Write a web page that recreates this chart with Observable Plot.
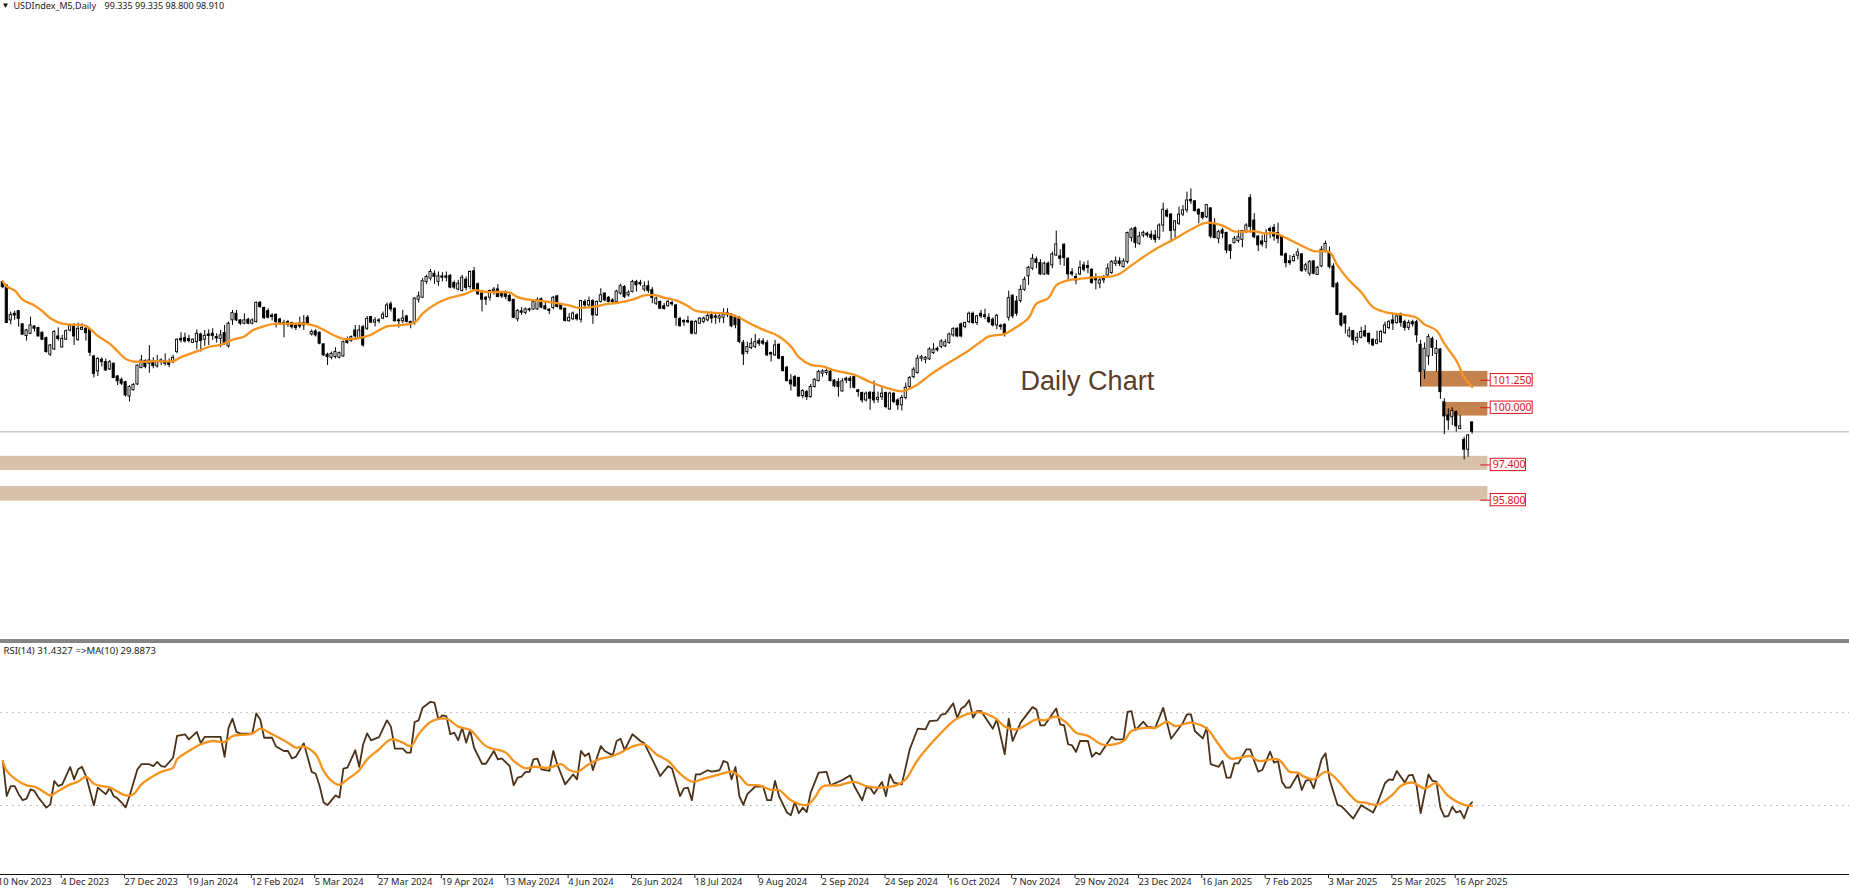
<!DOCTYPE html>
<html>
<head>
<meta charset="utf-8">
<title>USDIndex Daily Chart</title>
<script src="https://cdn.jsdelivr.net/npm/d3@7"></script>
<script src="https://cdn.jsdelivr.net/npm/@observablehq/plot@0.6"></script>
<style>
html,body{margin:0;padding:0;background:#fff;overflow:hidden}
svg{display:block}
#sep{height:4px;background:#858585}
</style>
</head>
<body>
<div id="top"></div>
<div id="sep"></div>
<div id="bottom"></div>
<script>
const high=[
105.76,105.56,104.35,104.39,104.42,103.82,103.56,104.12,103.74,103.66,
103.44,103.21,102.88,103.51,103.63,103.29,103.54,103.79,103.82,103.85,
103.82,103.74,103.59,102.38,102.27,102.27,102.22,102.15,102.03,101.47,
101.35,101.20,101.01,101.09,101.95,102.38,102.18,102.82,102.27,102.38,
102.22,102.45,102.22,102.38,103.13,103.41,103.39,103.29,103.13,103.54,
103.39,103.51,103.54,103.59,103.36,103.51,103.74,103.89,104.42,104.42,
104.00,104.27,104.07,104.04,104.80,104.83,104.57,104.50,104.27,104.27,
104.07,103.97,103.97,103.89,103.82,104.12,104.19,104.19,103.54,103.54,
103.44,102.91,102.48,102.53,102.73,102.53,103.03,103.21,103.26,103.74,
103.74,103.74,104.15,104.15,104.09,104.05,104.35,104.76,104.81,104.53,
104.05,104.43,104.20,103.93,105.00,105.26,105.87,106.02,106.28,106.22,
106.17,106.14,106.17,106.06,105.76,105.79,106.02,105.94,106.22,106.37,
105.67,105.34,105.06,105.34,105.46,105.59,105.26,105.31,105.15,104.91,
104.46,104.55,104.53,104.53,104.88,104.99,104.99,104.81,104.50,105.06,
105.11,104.73,104.53,104.28,104.35,104.28,104.88,104.91,105.03,104.91,
104.85,105.41,105.23,105.06,104.96,105.34,105.61,105.55,105.31,105.79,
105.79,105.79,105.72,105.76,105.46,105.03,104.85,104.73,104.88,104.85,
104.70,104.12,104.00,104.15,103.94,103.97,104.09,104.12,104.28,104.35,
104.28,104.25,104.50,104.50,104.28,104.20,104.15,103.06,102.98,103.14,
103.33,103.14,103.14,103.06,102.53,103.06,102.91,102.33,101.88,101.50,
101.47,101.39,100.82,100.79,101.06,101.32,101.70,101.73,101.73,101.70,
101.27,101.32,101.32,101.39,101.42,101.42,100.82,100.71,100.71,100.74,
101.21,100.71,100.91,100.71,100.71,100.68,100.41,100.56,101.12,101.42,
101.82,102.38,102.38,102.33,102.73,102.91,102.76,103.09,103.09,103.39,
103.64,103.64,103.85,103.89,104.35,104.35,104.20,104.42,104.48,104.27,
104.09,104.24,103.79,103.82,105.30,105.14,105.06,105.56,105.94,106.42,
106.97,106.85,106.73,106.62,106.62,107.08,108.03,107.18,107.45,106.82,
106.32,106.09,106.67,106.62,106.67,106.32,106.09,105.94,106.01,106.54,
106.69,106.85,106.82,106.77,107.98,108.16,108.21,107.98,108.03,107.98,
108.03,108.06,108.36,109.30,109.04,108.82,108.51,109.12,109.19,109.80,
109.95,109.42,109.04,108.89,109.24,109.09,108.59,108.06,108.16,107.98,
107.42,107.78,108.06,108.06,108.36,109.68,108.82,107.83,107.83,108.09,
108.21,108.33,108.39,107.83,107.03,106.92,106.97,107.22,107.00,106.57,
106.69,106.69,106.42,107.33,107.57,107.30,106.54,105.71,104.31,104.19,
103.66,103.51,103.39,103.66,103.74,103.39,103.13,103.48,103.51,103.89,
103.97,104.24,104.27,104.30,103.98,103.97,103.98,103.97,103.06,102.94,
103.33,103.21,103.06,102.68,100.41,99.95,100.00,99.85,99.65,98.66,98.78,99.335];
const low=[
105.41,103.82,103.77,103.97,103.66,103.29,103.03,103.32,103.44,103.21,
103.06,102.48,102.33,102.60,103.03,102.71,103.06,103.44,102.83,103.01,
103.51,103.03,102.33,101.35,101.42,101.85,101.65,101.69,101.32,101.01,
101.01,100.48,100.26,100.76,101.01,101.77,101.77,101.57,101.77,101.80,
101.92,101.89,101.82,102.00,102.45,102.94,102.94,102.94,102.91,102.63,
102.53,102.79,102.83,103.06,102.94,102.73,102.83,102.71,103.74,103.92,
103.74,103.77,103.77,103.77,103.85,104.53,104.01,104.04,103.94,103.63,
103.74,103.18,103.66,103.57,103.51,103.59,103.51,103.74,103.26,103.21,
102.86,102.33,101.92,102.18,102.22,102.22,102.30,102.88,102.98,103.09,
103.10,102.75,103.51,103.82,103.67,103.82,104.00,104.08,104.35,103.90,
103.62,103.82,103.85,103.59,103.75,104.76,104.96,105.61,105.76,105.61,
105.52,105.72,105.72,105.41,105.37,105.31,105.26,105.31,105.37,105.31,
105.11,104.35,104.65,104.85,105.11,105.00,104.96,104.91,104.81,104.05,
103.90,104.20,104.23,104.35,104.43,104.43,104.50,104.43,104.23,104.46,
104.53,104.43,103.90,103.90,103.97,103.94,103.85,104.55,104.58,103.79,
104.15,104.76,104.81,104.76,104.73,104.73,105.11,104.96,105.03,105.22,
105.26,105.52,105.26,105.19,104.73,104.65,104.46,104.43,104.58,104.61,
103.70,103.67,103.70,103.82,103.31,103.31,103.78,103.82,103.90,103.82,
103.79,103.85,103.82,104.09,103.64,103.59,102.91,101.92,102.42,102.64,
102.68,102.79,102.83,102.33,102.08,102.33,102.18,101.62,101.17,100.76,
100.94,100.48,100.41,100.33,100.44,100.89,101.17,101.39,101.47,101.17,
100.91,100.48,100.71,101.09,100.86,100.86,100.48,100.21,100.26,99.88,
100.18,100.21,100.33,99.95,99.88,100.18,99.88,99.85,100.36,100.86,
101.32,101.52,102.08,102.00,102.15,102.42,102.53,102.68,102.73,102.88,
103.21,103.18,103.18,103.59,103.82,103.79,103.74,104.05,104.00,103.82,
103.67,103.55,103.52,103.21,103.94,104.05,104.15,104.76,105.29,105.56,
106.24,106.32,106.01,106.01,106.01,106.32,106.88,106.47,106.42,105.79,
105.97,105.59,106.01,106.17,106.09,105.61,105.36,105.41,105.64,105.94,
106.06,106.42,106.42,106.35,106.54,107.53,107.25,107.38,107.72,107.72,
107.60,107.48,107.60,107.98,108.63,107.57,107.68,108.28,108.69,108.85,
109.24,108.89,108.36,108.54,108.59,107.68,107.68,107.45,107.68,107.00,
106.74,107.45,107.48,107.27,107.91,107.94,107.68,107.10,107.30,107.22,
107.68,107.57,107.45,106.88,106.36,106.47,106.62,106.72,106.15,106.16,
105.97,106.04,106.01,106.36,107.03,106.31,105.44,104.18,103.66,103.36,
103.16,102.83,102.91,103.13,103.18,102.86,102.78,102.86,102.94,103.33,
103.54,103.51,103.79,103.66,103.48,103.51,103.66,102.95,100.94,101.29,
101.92,102.33,101.62,100.38,98.78,98.97,99.19,98.89,99.00,97.63,97.75,98.80];
const open=[
105.71,105.56,103.97,104.27,104.39,103.79,103.26,103.36,103.69,103.62,
103.41,103.16,102.41,102.65,103.24,102.74,103.09,103.51,103.74,103.09,
103.54,103.59,103.56,102.33,101.65,102.18,102.07,101.74,102.00,101.42,
101.27,101.16,100.51,100.79,101.06,101.80,102.12,102.00,102.10,101.88,
102.15,102.12,102.07,102.07,102.53,103.13,103.16,103.12,102.95,102.98,
103.33,103.09,103.33,103.36,103.21,103.13,103.39,102.79,103.97,104.27,
103.97,103.82,104.00,103.82,103.89,104.77,104.54,104.39,104.19,104.22,
104.01,103.85,103.89,103.85,103.74,103.82,103.74,104.09,103.33,103.47,
103.41,102.88,102.41,102.27,102.30,102.27,102.33,103.06,103.03,103.51,
103.13,103.66,103.59,104.12,103.87,103.93,104.05,104.12,104.70,104.50,
103.97,103.93,104.15,103.90,103.85,104.91,105.00,105.72,105.87,106.09,
105.72,105.97,105.97,105.99,105.67,105.37,105.31,105.82,105.49,106.20,
105.61,105.19,105.00,105.00,105.31,105.38,105.19,105.19,105.08,104.91,
104.02,104.38,104.31,104.47,104.46,104.47,104.93,104.61,104.46,104.53,
105.06,104.68,104.50,103.93,104.02,104.20,104.00,104.81,104.65,104.85,
104.20,104.81,105.19,105.00,104.88,104.81,105.19,105.49,105.11,105.26,
105.72,105.67,105.37,105.52,105.34,104.73,104.81,104.61,104.61,104.76,
104.65,104.03,103.94,103.94,103.91,103.37,103.82,103.90,103.97,104.20,
104.15,104.05,104.09,104.20,104.15,104.09,104.09,102.95,102.53,102.71,
102.76,103.03,103.01,102.94,102.48,102.38,102.86,102.30,101.82,101.24,
101.39,101.35,100.53,100.71,100.48,100.94,101.21,101.55,101.58,101.64,
101.24,101.17,100.74,101.32,101.32,101.39,100.79,100.67,100.33,100.68,
100.68,100.36,100.48,100.67,99.92,100.64,100.33,100.11,100.44,100.94,
101.39,101.58,102.23,102.18,102.20,102.48,102.68,102.76,102.79,102.94,
103.29,103.59,103.79,103.67,103.89,104.27,103.85,104.27,104.20,104.09,
104.00,103.74,103.73,103.77,104.09,105.09,104.83,104.85,105.36,105.97,
106.32,106.74,106.58,106.06,106.55,106.47,106.92,106.88,107.41,106.77,
106.15,105.94,106.06,106.47,106.44,106.27,105.91,105.64,105.79,106.01,
106.12,106.54,106.65,106.39,106.62,107.72,108.16,107.45,107.83,107.91,
107.86,107.83,107.72,108.28,108.94,108.78,108.06,108.36,108.78,108.97,
109.45,109.38,109.00,108.85,108.66,109.06,108.36,107.68,108.06,107.94,
107.38,107.48,107.57,107.63,107.98,109.53,108.51,107.78,107.56,107.53,
108.13,108.18,107.94,107.78,106.97,106.66,106.66,106.91,106.97,106.27,
106.09,106.65,106.04,106.42,107.07,107.03,106.42,105.63,104.27,104.15,
103.24,103.48,103.03,103.18,103.48,103.36,103.09,102.91,102.98,103.39,
103.62,103.97,103.85,104.24,103.89,103.63,103.89,103.89,102.86,101.69,
102.33,103.13,102.45,102.65,100.25,99.65,99.57,99.80,99.03,98.54,98.09,99.335];
const close=[
105.48,103.85,104.22,104.19,104.04,103.32,103.51,103.74,103.59,103.24,
103.09,102.53,102.83,103.44,103.12,103.13,103.48,103.72,103.24,103.59,
103.63,103.39,102.50,101.54,102.22,102.07,101.69,102.07,101.35,101.20,
101.09,100.56,100.94,101.04,101.91,102.15,101.85,102.15,101.89,102.12,
102.07,102.00,101.95,102.27,103.09,103.06,103.01,103.03,103.09,103.36,
103.03,103.27,103.26,103.26,103.15,103.29,102.94,103.82,104.30,103.97,
103.82,103.97,103.82,103.97,104.77,104.57,104.07,104.09,104.12,103.89,
103.82,103.77,103.77,103.66,103.62,103.69,103.85,103.82,103.44,103.29,
102.91,102.38,102.30,102.45,102.53,102.48,102.98,102.94,103.21,103.24,
103.51,102.83,104.04,103.87,103.97,103.97,104.23,104.65,104.47,103.93,
103.93,104.05,103.90,103.82,104.96,105.06,105.75,105.94,106.17,105.94,
105.97,105.91,105.91,105.46,105.46,105.64,105.91,105.44,106.17,105.37,
105.15,104.91,104.91,105.31,105.37,105.03,105.06,105.03,104.84,104.09,
104.40,104.32,104.47,104.43,104.81,104.88,104.55,104.47,104.40,105.00,
104.58,104.47,103.94,104.09,104.28,104.02,104.85,104.65,104.85,104.20,
104.81,105.11,104.88,104.81,104.81,105.28,105.52,105.03,105.23,105.72,
105.56,105.61,105.52,105.31,104.99,104.96,104.50,104.49,104.81,104.70,
104.09,103.70,103.88,103.88,103.37,103.90,104.05,104.05,104.17,104.05,
104.09,104.15,104.23,104.31,103.70,103.75,102.99,102.42,102.76,102.91,
102.98,102.91,102.91,102.38,102.42,102.83,102.23,101.67,101.21,101.06,
100.97,100.51,100.76,100.48,100.94,101.27,101.62,101.65,101.67,101.21,
100.97,100.94,101.20,101.24,101.21,100.91,100.71,100.33,100.64,100.41,
100.33,100.45,100.64,100.03,100.64,100.26,100.11,100.44,100.91,101.35,
101.73,102.23,102.30,102.27,102.65,102.64,102.61,103.01,102.98,103.33,
103.57,103.24,103.24,103.85,104.27,103.85,104.15,104.15,104.12,103.89,
103.74,104.18,103.67,103.33,104.98,104.15,104.27,105.36,105.82,106.36,
106.77,106.58,106.06,106.55,106.06,106.97,107.42,106.77,106.80,106.06,
106.06,105.79,106.36,106.27,106.35,105.67,105.79,105.79,105.86,106.32,
106.62,106.65,106.54,106.65,107.94,108.10,107.48,107.78,107.95,107.83,
107.72,107.63,108.28,109.00,108.69,108.03,108.47,108.78,108.97,109.42,
109.38,108.94,108.78,108.63,109.21,107.78,107.71,107.98,107.91,107.15,
107.12,107.68,107.75,108.03,108.28,108.21,107.75,107.38,107.42,107.91,
108.03,107.78,107.68,106.92,106.57,106.57,106.85,107.06,106.21,106.47,
106.62,106.09,106.36,107.18,107.45,106.39,105.48,104.22,103.74,103.82,
103.51,103.06,103.18,103.44,103.24,102.98,102.83,103.06,103.44,103.74,
103.89,103.82,104.15,103.86,103.63,103.85,103.79,103.29,101.62,102.68,
103.21,102.72,102.68,100.71,99.60,99.42,99.85,99.15,99.15,98.09,98.74,98.91];

const maBar=[0,1,3,5,8,10,12,15,18,21,24,27,29,31,33,36,39,43,45,49,52,55,58,61,63,66,69,72,76,79,82,84,86,89,91,93,95,97,100,104,106,110,113,117,119,122,125,128,130,133,136,139,143,145,149,152,155,159,162,165,167,170,173,175,180,183,186,189,192,196,199,201,204,207,210,215,219,223,227,228,231,234,238,244,247,249,253,255,259,261,264,266,269,272,276,280,282,285,289,292,296,300,304,308,311,314,316,319,321,324,327,331,335,337,340,343,346,349,353,357,359,362,364,367,369,371];
const maValue=[105.74,105.51,105.33,104.91,104.65,104.39,104.07,103.82,103.77,103.71,103.26,102.91,102.56,102.22,102.10,102.10,102.12,102.12,102.30,102.56,102.76,102.86,103.09,103.24,103.51,103.71,103.82,103.82,103.82,103.71,103.44,103.26,103.13,103.13,103.21,103.32,103.52,103.70,103.75,103.87,104.28,104.78,105.00,105.19,105.34,105.26,105.26,105.23,105.03,104.91,104.85,104.78,104.65,104.55,104.58,104.70,104.76,104.91,105.11,105.11,105.00,104.88,104.62,104.40,104.31,104.28,104.09,103.79,103.55,103.24,102.79,102.30,101.95,101.88,101.70,101.50,101.17,100.91,100.74,100.79,101.06,101.47,101.95,102.61,103.01,103.24,103.36,103.56,104.08,104.73,104.98,105.56,105.79,105.86,105.94,105.97,106.09,106.47,106.97,107.30,107.68,108.10,108.41,108.28,108.01,108.01,108.03,107.91,107.95,107.72,107.45,107.12,107.07,106.47,105.78,105.25,104.57,104.35,104.24,104.09,103.79,103.51,102.91,102.15,101.39,100.94];

const rsiBar=[0,1,2,3,4,5,6,7,8,9,10,11,12,13,14,15,17,18,19,20,21,23,24,26,27,28,29,30,31,32,34,35,37,38,39,40,41,43,44,46,47,49,50,51,54,55,56,57,58,59,60,63,64,65,66,68,69,71,72,73,74,76,78,79,80,81,82,84,85,86,87,89,90,91,92,93,95,97,98,99,101,102,103,104,105,106,108,109,110,111,112,113,114,115,116,117,118,119,121,122,124,125,126,128,129,130,131,132,133,134,135,136,138,139,140,142,144,145,146,147,148,149,151,152,154,155,156,157,159,161,162,164,166,168,169,171,172,173,174,175,176,178,179,181,182,183,184,185,186,187,188,190,192,193,194,195,196,198,199,200,201,202,203,204,206,208,209,212,214,215,217,218,219,220,222,223,224,225,227,229,231,233,234,236,237,238,240,241,242,243,244,245,246,247,250,251,253,254,255,257,260,261,262,263,266,267,268,269,270,271,272,274,275,276,277,280,281,283,284,285,286,288,289,291,293,295,298,299,300,301,303,304,305,307,308,309,310,311,312,314,315,316,317,318,320,321,322,323,324,325,327,328,329,330,331,333,334,335,337,338,341,343,346,347,349,350,351,352,354,355,356,357,358,360,361,362,363,364,365,366,367,368,369,370,371];
const rsiValue=[49.2,34.1,38.4,38.4,34.9,32.3,33.0,37.0,36.3,33.4,31.3,29.1,30.5,40.6,38.4,39.1,46.6,41.3,45.6,46.7,42.7,30.1,37.7,34.9,37.7,34.1,33.0,31.3,29.2,34.1,45.6,47.8,47.8,47.0,48.8,47.0,46.7,50.6,60.0,60.7,58.5,61.7,56.8,59.6,59.6,59.6,51.0,63.5,67.4,61.7,61.0,61.0,69.7,67.1,59.2,59.2,55.4,53.5,53.5,50.3,51.0,56.8,44.5,43.7,38.4,31.3,30.2,34.4,33.4,45.9,46.3,53.8,46.7,56.4,61.1,58.1,59.5,66.7,64.0,54.5,54.5,52.8,52.8,66.0,66.7,72.1,74.7,74.3,67.1,68.8,68.5,60.7,61.4,58.1,63.5,57.1,62.5,54.9,48.0,48.0,53.5,49.9,50.3,47.0,38.7,42.0,42.5,44.5,44.5,49.9,50.2,45.6,44.9,53.5,47.8,39.1,43.4,41.3,53.5,51.3,52.5,45.3,55.6,53.5,51.6,57.8,58.8,53.9,60.7,57.8,56.8,49.9,42.7,47.0,45.9,34.1,37.4,37.7,32.3,43.4,43.4,45.2,44.6,45.2,49.2,48.5,41.3,46.6,33.9,30.3,34.9,38.2,38.2,32.3,32.3,40.6,34.1,27.0,25.8,31.5,26.7,29.1,27.2,35.6,44.2,44.5,38.7,41.0,43.0,38.4,32.3,37.7,37.7,35.1,40.1,34.1,43.4,39.9,39.1,54.2,63.1,62.8,66.4,66.7,69.2,69.5,74.0,67.8,71.8,72.9,75.4,67.8,70.7,70.7,63.1,67.1,52.1,67.4,57.8,65.7,72.4,71.4,64.5,64.5,71.8,65.0,64.5,56.4,55.9,53.1,57.8,57.8,51.0,52.8,52.0,59.6,58.5,58.5,70.3,70.7,62.5,66.1,64.0,63.5,72.1,58.8,65.7,69.3,69.3,62.1,58.9,63.5,47.8,46.7,49.2,42.0,42.0,48.2,48.2,54.2,54.2,49.2,44.6,45.3,53.2,48.5,49.2,40.2,37.7,37.7,43.4,36.7,40.6,41.3,37.4,49.9,52.5,41.3,30.3,29.8,24.4,30.1,27.0,30.5,39.6,41.3,41.0,44.9,39.9,43.0,43.2,38.4,26.7,43.4,40.6,40.3,29.1,25.2,25.5,29.4,27.0,27.7,24.5,29.4,31.43];

const rsiMaBar=[0,1,3,6,8,10,12,14,17,19,21,23,25,27,29,31,33,35,38,40,43,44,47,50,53,56,58,63,65,68,72,74,76,79,81,83,85,87,90,92,95,98,101,103,105,108,112,115,118,122,127,129,132,134,138,141,143,145,148,151,154,156,159,162,165,168,171,174,177,181,184,186,188,191,194,196,199,203,205,207,211,215,218,222,226,228,231,235,240,242,245,248,251,253,256,261,263,266,269,271,274,278,283,285,289,291,294,296,300,304,307,310,312,315,317,322,325,327,328,331,334,336,342,344,347,351,353,356,359,362,365,369,371];
const rsiMaValue=[49.2,44.9,41.6,38.7,38.1,36.3,34.4,36.3,39.1,40.3,42.4,39.4,38.4,37.7,36.0,34.4,34.9,39.1,42.7,44.5,46.3,49.9,53.5,56.4,57.8,57.4,59.9,61.0,63.1,60.7,57.1,54.9,55.4,52.1,44.9,40.6,38.9,41.3,45.2,49.9,54.2,58.5,57.1,55.6,60.7,66.0,67.4,64.0,62.5,55.6,52.8,49.2,46.0,46.7,46.3,47.8,45.3,44.5,47.8,50.2,51.3,52.8,55.4,56.4,52.1,49.2,43.7,40.3,41.6,43.4,44.6,42.7,39.1,38.7,36.7,36.7,32.3,30.3,33.4,38.2,38.7,40.2,38.4,37.7,39.0,41.3,49.6,57.8,66.4,68.3,70.0,69.7,67.1,64.0,62.8,67.1,66.7,68.3,65.0,61.4,60.0,56.1,57.8,62.1,63.5,63.5,66.0,64.2,65.7,63.1,56.4,50.3,50.5,51.3,49.2,49.9,44.5,44.2,43.0,41.3,44.5,42.7,31.7,31.3,30.3,34.8,38.4,39.9,37.4,39.6,34.1,30.3,29.89];

const tickBars=[-1,15,31,47,63,79,95,111,127,143,159,175,191,207,223,239,255,271,287,303,319,335,351,367];
const tickLabels=["10 Nov 2023","4 Dec 2023","27 Dec 2023","19 Jan 2024","12 Feb 2024","5 Mar 2024","27 Mar 2024","19 Apr 2024","13 May 2024","4 Jun 2024","26 Jun 2024","18 Jul 2024","9 Aug 2024","2 Sep 2024","24 Sep 2024","16 Oct 2024","7 Nov 2024","29 Nov 2024","23 Dec 2024","16 Jan 2025","7 Feb 2025","3 Mar 2025","25 Mar 2025","16 Apr 2025"];

const levelPrices=[101.25,100,97.4,95.8];
const levelLabels=["101.250","100.000","97.400","95.800"];
const levelBoxEnd=[386.3,386.3,384.6,384.6];
const resistanceZones=[{x1:358,x2:375,y1:100.94,y2:101.65},{x1:364.3,x2:375,y1:99.62,y2:100.24}];
const supportZones=[{x1:-1,x2:375,y1:97.15,y2:97.79},{x1:-1,x2:375,y1:95.75,y2:96.42}];
const lastClose=98.91;
const rsiLevels=[70,30];

const font='"Noto Sans", sans-serif';
const xDomain=[-0.581,466.3];
const bars=high.map((h,i)=>({i,high:h,low:low[i],open:open[i],close:close[i]}));
const ma=maBar.map((b,k)=>({b,v:maValue[k]}));
const rsi=rsiBar.map((b,k)=>({b,v:rsiValue[k]}));
const rsiMa=rsiMaBar.map((b,k)=>({b,v:rsiMaValue[k]}));
const levels=levelPrices.map((p,k)=>({p,label:levelLabels[k],end:levelBoxEnd[k]}));
const half=0.27;

const topPlot=Plot.plot({
  width:1849,height:639,margin:0,
  style:{background:"#fff",fontFamily:font},
  x:{domain:xDomain,axis:null},
  y:{domain:[89.465,118.51],axis:null},
  marks:[
    Plot.rect(supportZones,{x1:"x1",x2:"x2",y1:"y1",y2:"y2",fill:"#d8c2a9"}),
    Plot.rect(resistanceZones,{x1:"x1",x2:"x2",y1:"y1",y2:"y2",fill:"#c4824f"}),
    Plot.ruleY([lastClose],{stroke:"#c9c9c9",strokeWidth:1.4}),
    Plot.ruleX(bars,{x:"i",y1:"low",y2:"high",stroke:"#000",strokeWidth:1}),
    Plot.rect(bars,{x1:d=>d.i-half,x2:d=>d.i+half,y1:"open",y2:"close",
      fill:d=>d.close>=d.open?"#fff":"#000",stroke:"#000",strokeWidth:0.9}),
    Plot.line(ma,{x:"b",y:"v",stroke:"#f5931e",strokeWidth:2.3,curve:"catmull-rom"}),
    Plot.ruleY(levels,{y:"p",x1:373.2,x2:375.7,stroke:"#e3101c",strokeWidth:1}),
    Plot.rect(levels,{x1:375.7,x2:"end",y1:d=>d.p-0.28,y2:d=>d.p+0.28,fill:"#fff",stroke:"#e3101c",strokeWidth:1}),
    Plot.text(levels,{x:376.2,y:"p",text:"label",textAnchor:"start",fill:"#d8121f",fontSize:10.5}),
    Plot.text(["Daily Chart"],{x:[257],y:[100.79],textAnchor:"start",lineAnchor:"bottom",fill:"#5a3d26",fontSize:27,fontFamily:'"Liberation Sans", Arial, sans-serif'}),
    Plot.text(["▼"],{frameAnchor:"top-left",dx:1,dy:2,fontSize:8,textAnchor:"start",lineAnchor:"top",fill:"#111"}),
    Plot.text(["USDIndex_M5,Daily"],{frameAnchor:"top-left",dx:13,dy:2,fontSize:9,textAnchor:"start",lineAnchor:"top",fill:"#222"}),
    Plot.text(["99.335 99.335 98.800 98.910"],{frameAnchor:"top-left",dx:104,dy:2,fontSize:9,textAnchor:"start",lineAnchor:"top",fill:"#222"})
  ]
});
document.getElementById("top").append(topPlot);

const bottomPlot=Plot.plot({
  width:1849,height:251,marginTop:0,marginLeft:0,marginRight:0,marginBottom:20,
  style:{background:"#fff",fontFamily:font},
  x:{domain:xDomain,axis:null},
  y:{domain:[0.3,99.8],axis:null},
  marks:[
    Plot.ruleY(rsiLevels,{stroke:"#bdbdbd",strokeWidth:1,strokeDasharray:"2 4"}),
    Plot.ruleY([0.3],{stroke:"#111",strokeWidth:1.2}),
    Plot.line(rsi,{x:"b",y:"v",stroke:"#4a3219",strokeWidth:1.8}),
    Plot.line(rsiMa,{x:"b",y:"v",stroke:"#f5931e",strokeWidth:2.3,curve:"catmull-rom"}),
    Plot.axisX({ticks:tickBars,tickFormat:b=>tickLabels[tickBars.indexOf(b)],tickSize:4,tickPadding:0,textAnchor:"start",fontSize:9.3,dx:-1,fill:"#222",stroke:"#222",label:null}),
    Plot.text(["RSI(14) 31.4327"],{frameAnchor:"top-left",dx:3,dy:4,fontSize:9.6,textAnchor:"start",lineAnchor:"top",fill:"#222"}),
    Plot.text(["=>MA(10) 29.8873"],{frameAnchor:"top-left",dx:75,dy:4,fontSize:9.6,textAnchor:"start",lineAnchor:"top",fill:"#222"})
  ]
});
document.getElementById("bottom").append(bottomPlot);
</script>
</body>
</html>
